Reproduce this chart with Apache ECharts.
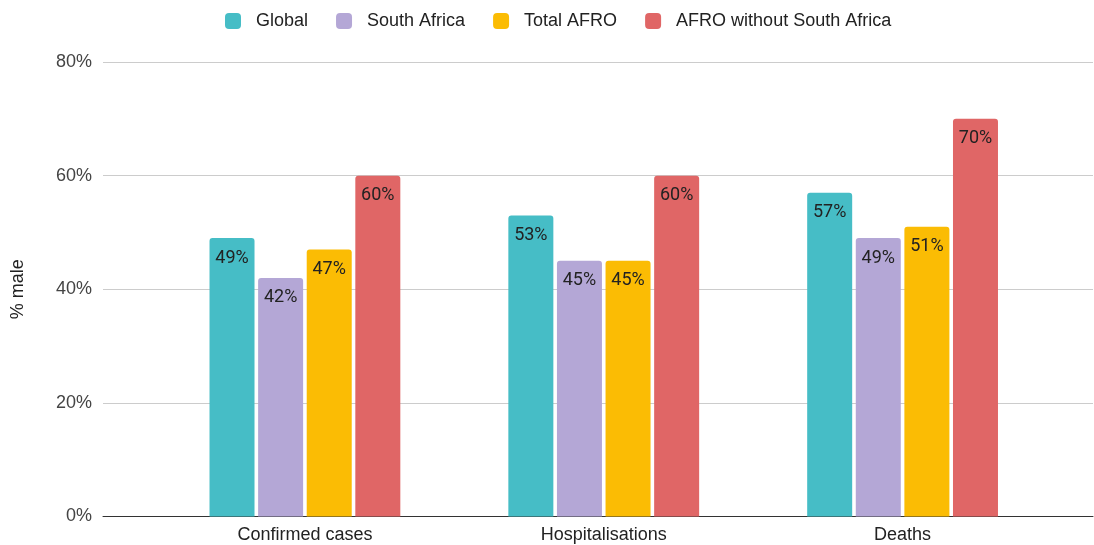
<!DOCTYPE html>
<html>
<head>
<meta charset="utf-8">
<script src="https://cdn.jsdelivr.net/npm/echarts@6/dist/echarts.min.js"></script>
<style>html,body{margin:0;padding:0;background:#fff}#c{width:1094px;height:545px}</style>
</head>
<body>
<div id="c"></div>
<script>
const categories = ['Confirmed cases', 'Hospitalisations', 'Deaths'];
const seriesNames = ['Global', 'South Africa', 'Total AFRO', 'AFRO without South Africa'];
const globalVals = [49, 53, 57];
const southAfricaVals = [42, 45, 49];
const totalAfroVals = [47, 45, 51];
const afroWithoutSAVals = [60, 60, 70];
const yTicks = [0, 20, 40, 60, 80];
const colors = ['#46bdc6', '#b4a7d6', '#fbbc04', '#e06666'];

const allVals = [globalVals, southAfricaVals, totalAfroVals, afroWithoutSAVals];
const chart = echarts.init(document.getElementById('c'));
const font = 'Liberation Sans, Arial, sans-serif';
chart.setOption({
  animation: false,
  color: colors,
  legend: {
    left: 220, top: 7,
    itemWidth: 16, itemHeight: 16, itemGap: 28,
    icon: 'roundRect',
    textStyle: { fontFamily: font, fontSize: 18, color: '#222', padding: [0, 0, 0, 10] },
    data: seriesNames
  },
  grid: [
    { left: 103, right: 1, top: 62, bottom: 28.5 },
    { left: 155.5, right: 42, top: 62, bottom: 28.5 }
  ],
  xAxis: [
    { gridIndex: 0, type: 'value', min: 0, max: 1,
      axisLine: { show: true, lineStyle: { color: '#333', width: 1 } },
      axisTick: { show: false }, axisLabel: { show: false }, splitLine: { show: false } },
    { gridIndex: 1, type: 'category', data: categories,
      axisLine: { show: false }, axisTick: { show: false },
      axisLabel: { fontFamily: font, fontSize: 18, color: '#222', margin: 10 } }
  ],
  yAxis: [
    { gridIndex: 0, type: 'value', min: yTicks[0], max: yTicks[yTicks.length - 1], interval: 20,
      name: '% male', nameLocation: 'middle', nameGap: 76, nameRotate: 90,
      nameTextStyle: { fontFamily: font, fontSize: 18, color: '#222', padding: [0, 0, 0, 0] },
      axisLine: { show: false }, axisTick: { show: false },
      axisLabel: { formatter: '{value}%', fontFamily: font, fontSize: 18, color: '#444', margin: 11 },
      splitLine: { lineStyle: { color: '#cccccc', width: 1 } } },
    { gridIndex: 1, type: 'value', min: 0, max: 80, show: false, splitLine: { show: false } }
  ],
  series: seriesNames.map((n, i) => ({
    name: n, type: 'bar', xAxisIndex: 1, yAxisIndex: 1,
    data: allVals[i],
    barWidth: 45, barGap: '8%',
    itemStyle: { color: colors[i], borderRadius: [3, 3, 0, 0] },
    label: { show: true, position: 'insideTop', distance: 11, formatter: '{c}%',
      fontFamily: 'Roboto', fontSize: 18, color: '#222' }
  }))
});
</script>
</body>
</html>
